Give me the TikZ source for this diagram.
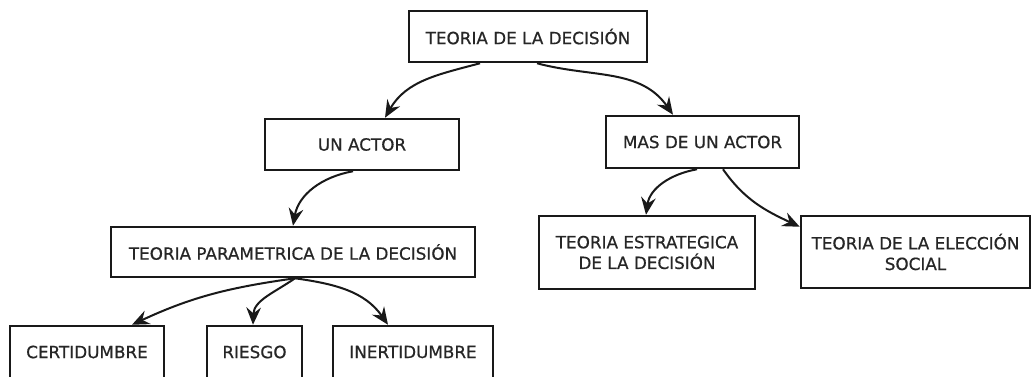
\documentclass[tikz,border=0pt]{standalone}
\usepackage{fontspec}
\setmainfont{DejaVu Sans}
\newfontfamily\boxfont[FakeBold=0.6]{DejaVu Sans}
\usetikzlibrary{arrows.meta,calc}
\begin{document}
\begin{tikzpicture}[x=0.75pt,y=-0.75pt,
  box/.style={draw=black!90,line width=1.9pt,rectangle,inner sep=0pt,align=center,
    font=\boxfont\fontsize{12.6}{15.5}\selectfont,text=black!85},
  conn/.style={line width=1.5pt,draw=black!90,-{Stealth[length=13pt,width=11pt,inset=4.5pt]}}]
\useasboundingbox (0,0) rectangle (1031,376);
\fill[white] (0,0) rectangle (1031,376);
\node[box,minimum width=238*0.75pt,minimum height=51*0.75pt] (top) at (528,36.5) {TEORIA DE LA DECISIÓN};
\node[box,minimum width=194*0.75pt,minimum height=51*0.75pt] (una) at (362,144.5) {UN ACTOR};
\node[box,minimum width=193*0.75pt,minimum height=52*0.75pt] (mas) at (702.5,142) {MAS DE UN ACTOR};
\node[box,minimum width=364*0.75pt,minimum height=50*0.75pt] (par) at (293,252) {TEORIA PARAMETRICA DE LA DECISIÓN};
\node[box,minimum width=216*0.75pt,minimum height=73*0.75pt] (est) at (647,252.5) {TEORIA ESTRATEGICA\\DE LA DECISIÓN};
\node[box,minimum width=229*0.75pt,minimum height=72*0.75pt] (ele) at (915.5,252) {TEORIA DE LA ELECCIÓN\\SOCIAL};
\node[box,minimum width=154*0.75pt,minimum height=52*0.75pt] (cer) at (87,352) {CERTIDUMBRE};
\node[box,minimum width=95*0.75pt,minimum height=52*0.75pt] (rie) at (254.5,352) {RIESGO};
\node[box,minimum width=160*0.75pt,minimum height=52*0.75pt] (ine) at (413,352) {INERTIDUMBRE};
\draw[conn] ($(top.south)+(-48,0)$) to[out=195,in=60] ($(una.north)+(23,0)$);
\draw[conn] ($(top.south)+(9,0)$) to[out=-15,in=125] ($(mas.north)+(-29.5,0)$);
\draw[conn] ($(una.south)+(-9,0)$) to[out=190,in=80] ($(par.north)+(0,0)$);
\draw[conn] ($(par.south)+(2,0)$) to[out=188,in=25] ($(cer.north)+(45,0)$);
\draw[conn] ($(par.south)+(2,0)$) to[out=215,in=88] ($(rie.north)+(-1.5,0)$);
\draw[conn] ($(par.south)+(2,0)$) to[out=-8,in=125] ($(ine.north)+(-25,0)$);
\draw[conn] ($(mas.south)+(-5.5,0)$) to[out=190,in=82] ($(est.north)+(-1,0)$);
\draw[conn] ($(mas.south)+(20.5,0)$) to[out=-55,in=155] ($(ele.north west)+(0,12)$);
\end{tikzpicture}
\end{document}
